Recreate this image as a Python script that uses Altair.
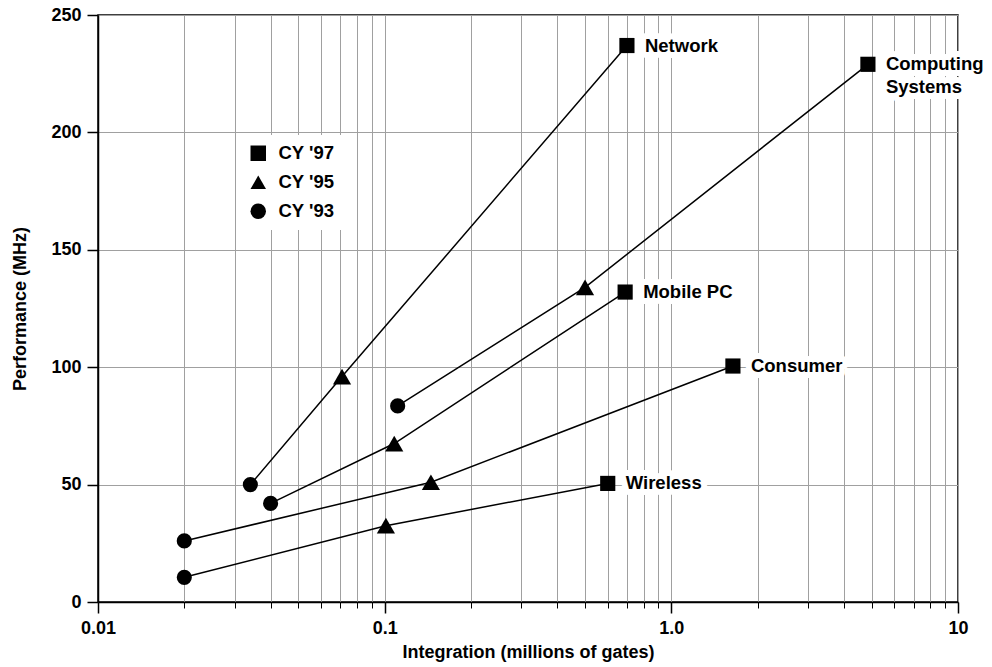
import altair as alt
import pandas as pd

# ---- data ----
applications = ["Network", "Computing Systems", "Mobile PC", "Consumer", "Wireless"]
label_text = ["Network", "Computing\nSystems", "Mobile PC", "Consumer", "Wireless"]
years = ["CY '93", "CY '95", "CY '97"]
legend_order = ["CY '97", "CY '95", "CY '93"]
legend_shapes = ["square", "triangle-up", "circle"]

gates_93 = [0.034, 0.111, 0.040, 0.020, 0.020]
gates_95 = [0.071, 0.50, 0.108, 0.145, 0.101]
gates_97 = [0.70, 4.85, 0.69, 1.64, 0.60]
mhz_93 = [50, 83.5, 42, 26, 10.5]
mhz_95 = [96, 134, 67.5, 51, 32.5]
mhz_97 = [237, 229, 132, 100.5, 50.5]

x_major = [0.01, 0.1, 1, 10]
x_minor = [0.02, 0.03, 0.04, 0.05, 0.06, 0.07, 0.08, 0.09,
           0.2, 0.3, 0.4, 0.5, 0.6, 0.7, 0.8, 0.9,
           2, 3, 4, 5, 6, 7, 8, 9]
y_ticks = [0, 50, 100, 150, 200, 250]

rows = []
for i, app in enumerate(applications):
    for yr, g, m in zip(years, [gates_93[i], gates_95[i], gates_97[i]],
                        [mhz_93[i], mhz_95[i], mhz_97[i]]):
        rows.append({"app": app, "year": yr, "gates": g, "mhz": m})
df = pd.DataFrame(rows)
labels_df = pd.DataFrame({"app": applications, "label": label_text,
                          "gates": gates_97, "mhz": mhz_97})

FONT = "Liberation Sans"
GRID = "#a0a0a0"

x_scale = alt.Scale(type="log", domain=[0.01, 10], nice=False)
y_scale = alt.Scale(domain=[0, 250], nice=False)

major_axis = alt.Axis(
    values=x_major, orient="bottom",
    labelExpr="datum.value == 1 ? '1.0' : datum.value == 10 ? '10' : datum.value == 0.1 ? '0.1' : '0.01'",
    tickSize=11, tickColor="black", tickWidth=1.5,
    domainColor="black", domainWidth=1.5,
    grid=True, gridColor=GRID, gridWidth=1,
    labelFont=FONT, labelFontSize=18, labelFontWeight="bold", labelColor="black",
    labelPadding=6, labelFlush=False, labelOverlap=False,
    title="Integration (millions of gates)", titleFont=FONT, titleFontSize=18,
    titleFontWeight="bold", titleColor="black", titleY=55, titleBaseline="alphabetic",
)
minor_axis = alt.Axis(
    values=x_minor, orient="bottom", labels=False, domain=False,
    tickSize=6, tickColor="black", tickWidth=1,
    grid=True, gridColor=GRID, gridWidth=1, title=None,
)
y_axis = alt.Axis(
    values=y_ticks, orient="left",
    tickSize=11, tickColor="black", tickWidth=1.5,
    domainColor="black", domainWidth=1.5,
    grid=True, gridColor=GRID, gridWidth=1,
    labelFont=FONT, labelFontSize=18, labelFontWeight="bold", labelColor="black",
    labelPadding=6, labelFlush=False,
    title="Performance (MHz)", titleFont=FONT, titleFontSize=18,
    titleFontWeight="bold", titleColor="black", titleX=-78, titleBaseline="middle",
)

y_enc = alt.Y("mhz:Q", scale=y_scale, axis=y_axis)

halo = alt.Chart(labels_df).mark_text(
    align="left", baseline="middle", dx=18, font=FONT, fontSize=18.5,
    fontWeight="bold", lineBreak="\n", lineHeight=23,
    color="white", stroke="white", strokeWidth=12, strokeJoin="round",
).encode(
    x=alt.X("gates:Q", scale=x_scale, axis=None),
    y=y_enc,
    text="label:N",
)

lines = alt.Chart(df).mark_line(color="black", strokeWidth=1.5).encode(
    x=alt.X("gates:Q", scale=x_scale, axis=major_axis),
    y=y_enc,
    detail="app:N",
    order="gates:Q",
)

legend_def = alt.Legend(
    title=None, orient="none", legendX=142, legendY=120,
    fillColor="white", padding=9, symbolSize=240,
    symbolFillColor="black", symbolStrokeColor="black",
    symbolStrokeWidth=0, symbolOpacity=1,
    labelFont=FONT, labelFontSize=18.5, labelFontWeight="bold",
    labelColor="black", labelOffset=11, rowPadding=10, labelLimit=300,
)

points = alt.Chart(df).mark_point(filled=True, color="black", opacity=1).encode(
    x=alt.X("gates:Q", scale=x_scale, axis=minor_axis),
    y=y_enc,
    shape=alt.Shape(
        "year:N",
        scale=alt.Scale(domain=legend_order, range=legend_shapes),
        legend=legend_def,
    ),
    size=alt.when(alt.datum.year == "CY '95").then(alt.value(330)).otherwise(alt.value(230)),
)

text = alt.Chart(labels_df).mark_text(
    align="left", baseline="middle", dx=18, font=FONT, fontSize=18.5,
    fontWeight="bold", lineBreak="\n", lineHeight=23, color="black",
).encode(
    x=alt.X("gates:Q", scale=x_scale, axis=None),
    y=y_enc,
    text="label:N",
)

chart = alt.layer(halo, lines, points, text).resolve_axis(
    x="independent"
).properties(
    width=860, height=587,
    autosize=alt.AutoSizeParams(type="none"),
    padding={"left": 98, "top": 15, "right": 34, "bottom": 65},
    background="white",
).configure_view(stroke="black", strokeWidth=1.5)

chart.save("out.html", embed_options={"renderer": "svg", "actions": False})
